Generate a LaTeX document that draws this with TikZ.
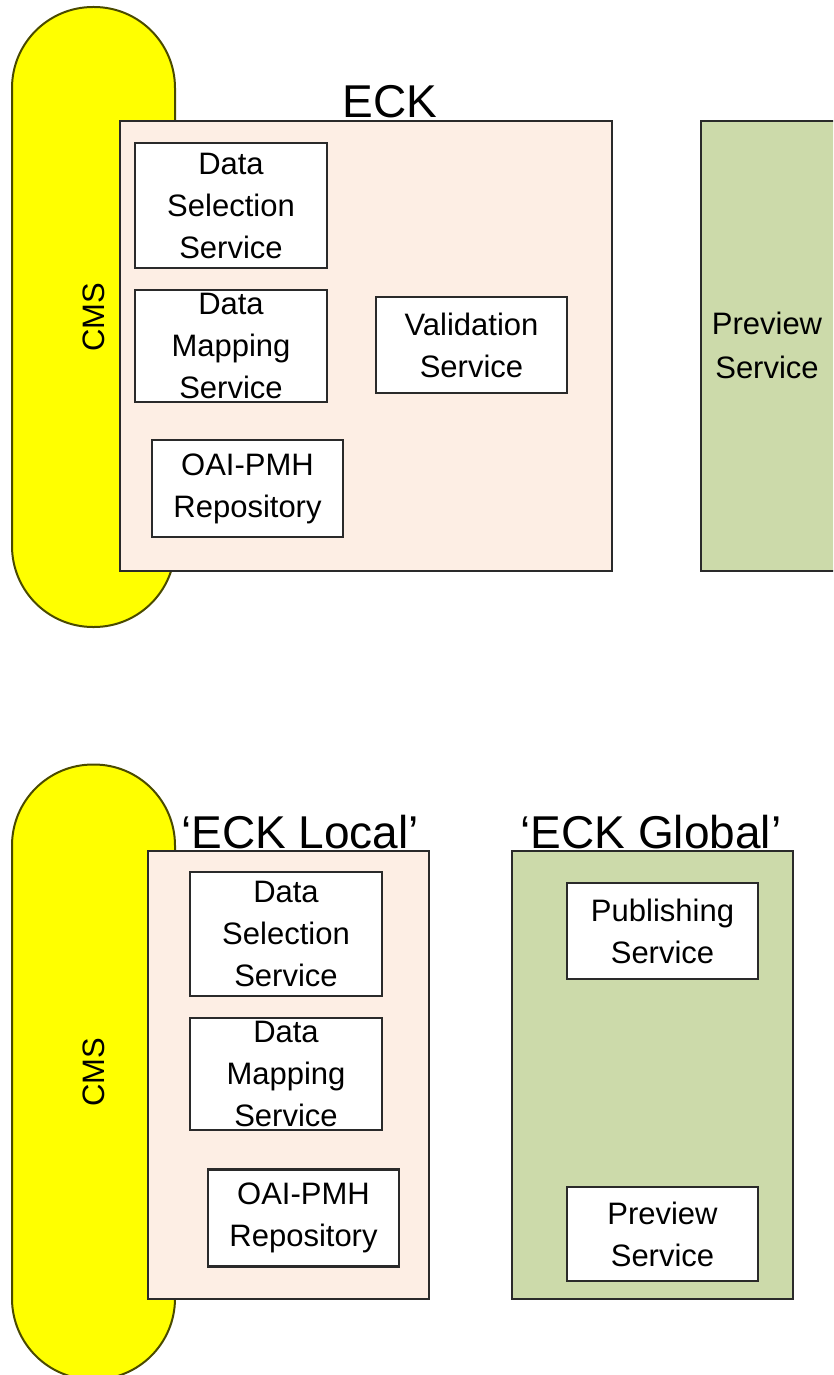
\documentclass[tikz,border=0pt]{standalone}
\usepackage{fontspec}
\setmainfont{Liberation Sans}
\definecolor{cmsyellow}{HTML}{FFFF00}
\definecolor{cmsedge}{HTML}{4A4A00}
\definecolor{peach}{HTML}{FDEEE4}
\definecolor{sage}{HTML}{CCDAAA}
\definecolor{edgegray}{HTML}{2A2A2A}
\begin{document}
\begin{tikzpicture}[x=1pt,y=-1pt,
  svc/.style={draw=edgegray, line width=2.6pt, fill=white, inner sep=0pt,
    align=center, font=\fontsize{31}{42}\selectfont},
  pill/.style={draw=cmsedge, line width=2pt, fill=cmsyellow, rotate=90,
    rounded corners=81pt, minimum width=620pt, minimum height=163pt,
    inner sep=0pt, font=\fontsize{31}{38}\selectfont},
  group/.style={draw=edgegray, line width=2.4pt, inner sep=0pt},
  title/.style={anchor=base, inner sep=0pt, font=\fontsize{46}{50}\selectfont}]
\useasboundingbox (0,0) rectangle (833,1375);
\begin{scope}
\clip (0,0) rectangle (833,1375);

% ---------- upper arrangement ----------
\node[pill] (cmsA) at (93.5,317) {CMS};
\node[group, fill=peach, minimum width=492pt, minimum height=450pt,
  anchor=north west] (eck) at (119,120) {};
\node[title] (eckT) at (390,118) {ECK};
\node[group, fill=sage, minimum width=150pt, minimum height=450pt,
  anchor=north west] (prevA) at (700,120) {};
\node[inner sep=0pt, align=center, font=\fontsize{31}{44}\selectfont]
  (prevAT) at (767,345) {Preview\\Service};

\node[svc, minimum width=192pt, minimum height=125pt] (dssA) at (231,205.5)
  {Data\\Selection\\Service};
\node[svc, minimum width=192pt, minimum height=112pt] (dmsA) at (231,346)
  {Data\\Mapping\\Service};
\node[svc, minimum width=191pt, minimum height=96pt] (valA) at (471.5,345)
  {Validation\\Service};
\node[svc, minimum width=191pt, minimum height=97pt] (oaiA) at (247.5,488.5)
  {OAI-PMH\\Repository};

% ---------- lower arrangement ----------
\node[pill, minimum width=615pt] (cmsB) at (93.5,1072) {CMS};
\node[group, fill=peach, minimum width=281pt, minimum height=448pt,
  anchor=north west] (local) at (147,850) {};
\node[title] (localT) at (300,848) {‘ECK Local’};
\node[group, fill=sage, minimum width=281pt, minimum height=448pt,
  anchor=north west] (global) at (511,850) {};
\node[title] (globalT) at (651,848) {‘ECK Global’};

\node[svc, minimum width=192pt, minimum height=124pt] (dssB) at (286,934)
  {Data\\Selection\\Service};
\node[svc, minimum width=192pt, minimum height=112pt] (dmsB) at (286,1074)
  {Data\\Mapping\\Service};
\node[svc, minimum width=191pt, minimum height=97pt] (oaiB) at (303.5,1218)
  {OAI-PMH\\Repository};
\node[svc, minimum width=191pt, minimum height=96pt] (pubB) at (662.5,931)
  {Publishing\\Service};
\node[svc, minimum width=191pt, minimum height=94pt] (prevB) at (662.5,1234)
  {Preview\\Service};
\end{scope}
\end{tikzpicture}
\end{document}
